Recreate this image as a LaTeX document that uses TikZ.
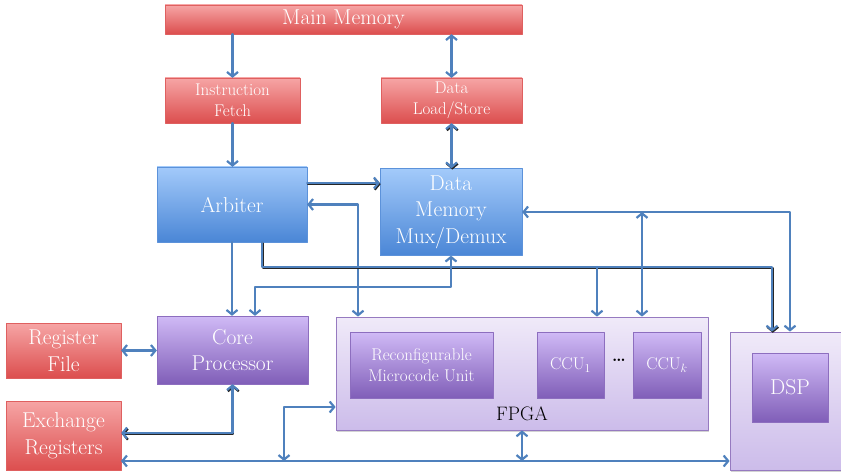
\documentclass[tikz,border=0pt]{standalone}
\usepackage{tikz}
\usetikzlibrary{arrows.meta}
\usetikzlibrary{shadows}
\definecolor{wireblue}{RGB}{79,129,189}
\definecolor{redtop}{RGB}{246,165,165}
\definecolor{redbot}{RGB}{220,78,78}
\definecolor{bluetop}{RGB}{163,202,250}
\definecolor{bluebot}{RGB}{74,134,214}
\definecolor{violettop}{RGB}{208,186,246}
\definecolor{violetbot}{RGB}{128,94,184}
\definecolor{frametop}{RGB}{240,234,249}
\definecolor{framebot}{RGB}{204,188,234}
\definecolor{frameedge}{RGB}{150,122,192}

\begin{document}
\begin{tikzpicture}[line cap=round,line join=round,>={Straight Barb[length=4.5pt,width=11pt]},x=1pt,y=-1pt,
    labelbig/.style={font=\fontsize{21.5}{26.5}\selectfont},
    labelsmall/.style={font=\fontsize{17}{21}\selectfont},
    redbox/.style={rectangle,inner sep=0pt,align=center,text=white,top color=redtop,bottom color=redbot,draw=redbot!90!white,line width=0.3pt},
    bluebox/.style={rectangle,inner sep=0pt,align=center,text=white,top color=bluetop,bottom color=bluebot,draw=bluebot!90!white,line width=0.3pt},
    violetbox/.style={rectangle,inner sep=0pt,align=center,text=white,top color=violettop,bottom color=violetbot,draw=violetbot!90!white,line width=0.3pt},
    framebox/.style={rectangle,inner sep=0pt,top color=frametop,bottom color=framebot,draw=frameedge,line width=0.8pt,drop shadow={opacity=0.35,shadow xshift=1pt,shadow yshift=-1.5pt}},
    wire/.style={draw=wireblue,line width=2.2pt},
    buswire/.style={wire,preaction={draw=black!85,line width=2.2pt,transform canvas={shift={(0.8pt,-1.2pt)}}}}]
  \useasboundingbox (0,0) rectangle (841,473);
  \clip (0,0) rectangle (841,473);
  % memory side
  \node[redbox,labelbig,minimum width=357,minimum height=29] (mainmem) at (343.5,19.5) {Main Memory};
  \node[redbox,labelsmall,minimum width=135,minimum height=45] (ifetch) at (232.5,100.5) {Instruction\\Fetch};
  \node[redbox,labelsmall,minimum width=141,minimum height=45] (dls) at (451.5,100.5) {Data\\Load/Store};
  \node[bluebox,labelbig,minimum width=150,minimum height=75] (arbiter) at (232,204.5) {Arbiter};
  \node[bluebox,labelbig,minimum width=142,minimum height=87] (dmem) at (451,212) {Data\\Memory\\Mux/Demux};
  % processor side
  \node[violetbox,labelbig,minimum width=151,minimum height=68] (core) at (232.5,350) {Core\\Processor};
  \node[redbox,labelbig,minimum width=115,minimum height=55] (regfile) at (63.5,350.5) {Register\\File};
  \node[redbox,labelbig,minimum width=115,minimum height=69] (exreg) at (63.5,435.5) {Exchange\\Registers};
  % FPGA and DSP
  \node[framebox,minimum width=372,minimum height=113] (fpga) at (522,373.5) {};
  \node[violetbox,labelsmall,minimum width=143,minimum height=66] (rmu) at (421.5,365) {Reconfigurable\\Microcode Unit};
  \node[violetbox,labelsmall,minimum width=67,minimum height=66] (ccuA) at (570.5,365) {CCU$_1$};
  \node[violetbox,labelsmall,minimum width=68,minimum height=66] (ccuB) at (667,365) {CCU$_k$};
  \node[labelsmall] (dots) at (619,360) {\textbf{\ldots}};
  \node[font=\fontsize{19.5}{22}\selectfont] (fpgalabel) at (522,414) {FPGA};
  \node[framebox,minimum width=120,minimum height=138] (dsp) at (790,401) {};
  \node[violetbox,labelbig,minimum width=76,minimum height=69] (dspcore) at (790,387.5) {DSP};
  % tap points
  \coordinate (busL) at (262,267);
  \coordinate (tapA) at (597,267);
  \coordinate (tapB) at (642,212);
  \coordinate (fb) at (358,206);
  \coordinate (dmc) at (255,287);
  \coordinate (lowL) at (121,461);
  \coordinate (tapC) at (284,461);
  % connectors
  \draw[wire,->] (mainmem.south -| ifetch.north) -- (ifetch.north);
  \draw[wire,<->] (mainmem.south -| dls.north) -- (dls.north);
  \draw[wire,->] (ifetch.south) -- (arbiter.north -| ifetch.south);
  \draw[buswire,<->] (dls.south) -- (dmem.north -| dls.south);
  \draw[buswire,->] ([yshift=21.5]arbiter.east) -- ([yshift=21.5]arbiter.east -| dmem.west);
  \draw[wire,<->] (arbiter.east) -| (fpga.north -| fb);
  \draw[wire,->] (arbiter.south) -- (arbiter.south |- core.north);
  \draw[buswire,->] (arbiter.south -| busL) |- (tapA) -| ([xshift=-18]dsp.north);
  \draw[wire,->] (tapA) -- (fpga.north -| tapA);
  \draw[wire,<->] (dmem.east) -| (dsp.north);
  \draw[wire,<->] (tapB) -- (fpga.north -| tapB);
  \draw[wire,<->] (dmem.south) |- (dmc) -- (core.north -| dmc);
  \draw[wire,<->] (regfile.east) -- (regfile.east -| core.west);
  \draw[buswire,<->] (core.south) |- ([yshift=2.5]exreg.east);
  \draw[wire,<->] (lowL) -- (lowL -| dsp.west);
  \draw[wire,<->] (tapC) |- ([yshift=-33.5]fpga.west);
  \draw[wire,<->] (fpga.south) -- (fpga.south |- lowL);
\end{tikzpicture}
\end{document}
